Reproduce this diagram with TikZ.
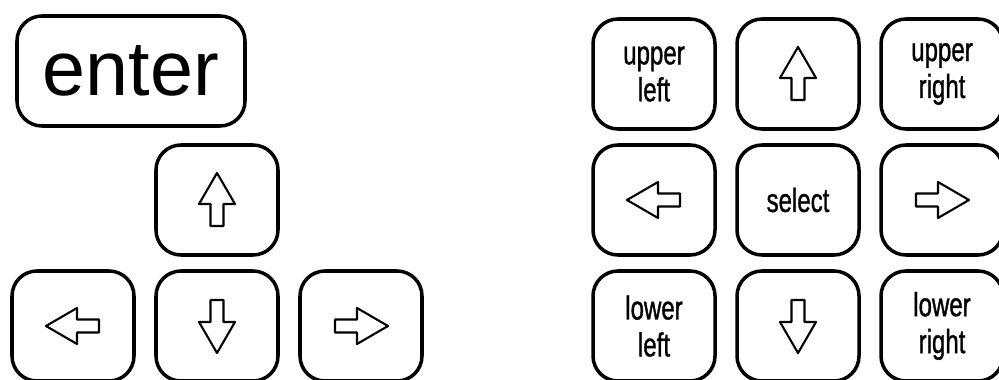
\documentclass[tikz,border=0pt]{standalone}
\usepackage{fontspec}
\setmainfont{Liberation Sans}
\newfontfamily\keyfont[FakeStretch=0.72,FakeBold=1]{Liberation Sans}
\usetikzlibrary{positioning}
\tikzset{keynode/.style={rectangle, rounded corners=0.5cm, draw=black, line width=2pt, minimum width=2.44cm, minimum height=2.2cm, align=center, font=\keyfont\fontsize{19}{21}\selectfont},
arrowline/.style={draw=black, line width=1.2pt, line join=round},}
\newcommand{\keyarrow}[2]{\draw[arrowline, shift={(#1.center)}, rotate=#2] (0.54,0) -- (-0.08,0.36) -- (-0.08,0.13) -- (-0.52,0.13) -- (-0.52,-0.13) -- (-0.08,-0.13) -- (-0.08,-0.36) -- cycle;}

\begin{document}
\begin{tikzpicture}[node distance=2.88cm]
\useasboundingbox (0,0) rectangle (19.98,-7.6);
\node [keynode, minimum width=4.56cm, font=\fontsize{44}{44}\selectfont] (enter) at (2.62,-1.42) {enter};
\node [keynode] (ldown) at (4.34,-6.52) {};
\node [keynode] (lleft) [left of=ldown] {};
\node [keynode] (lright) [right of=ldown] {};
\node [keynode] (lup) [node distance=2.52cm, above of=ldown] {};
\node [keynode] (select) at (15.96,-4.0) {select};
\node [keynode] (rleft) [left of=select] {};
\node [keynode] (rright) [right of=select] {};
\node [keynode] (rup) [node distance=2.52cm, above of=select] {};
\node [keynode] (rdown) [node distance=2.52cm, below of=select] {};
\node [keynode] (upleft) [node distance=2.52cm, above of=rleft] {upper\\left};
\node [keynode] (upright) [node distance=2.52cm, above of=rright] {upper\\right};
\node [keynode] (lowleft) [node distance=2.52cm, below of=rleft] {lower\\left};
\node [keynode] (lowright) [node distance=2.52cm, below of=rright] {lower\\right};
\keyarrow{lup}{90}
\keyarrow{ldown}{-90}
\keyarrow{lleft}{180}
\keyarrow{lright}{0}
\keyarrow{rup}{90}
\keyarrow{rdown}{-90}
\keyarrow{rleft}{180}
\keyarrow{rright}{0}
\end{tikzpicture}
\end{document}
